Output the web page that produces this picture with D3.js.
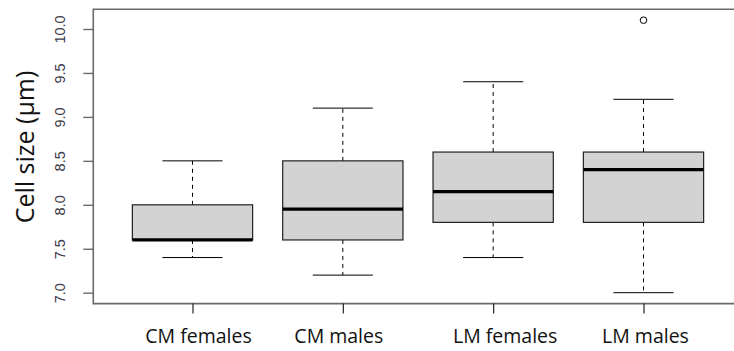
<!DOCTYPE html>
<html>
<head>
<meta charset="utf-8">
<script src="https://cdn.jsdelivr.net/npm/d3@7"></script>
<style>
  body { margin: 0; background: #fff; overflow: hidden; }
  svg { display: block; }
</style>
</head>
<body>
<div id="chart"></div>
<script>
// data
var groups = ['CM females', 'CM males', 'LM females', 'LM males'];
var whiskerLow = [7.4, 7.2, 7.4, 7.0];
var q1 = [7.6, 7.6, 7.8, 7.8];
var medians = [7.6, 7.95, 8.15, 8.4];
var q3 = [8.0, 8.5, 8.6, 8.6];
var whiskerHigh = [8.5, 9.1, 9.4, 9.2];
var outliers = [[], [], [], [10.1]];
var yTicks = [7.0, 7.5, 8.0, 8.5, 9.0, 9.5, 10.0];

var W = 734, H = 351;
var svg = d3.select('#chart').append('svg')
    .attr('width', W).attr('height', H);

// x positions: group index 1..4 on R style range 0.34 .. 4.66
var x = d3.scaleLinear().domain([1, 4]).range([192.5, 643.5]);
var y = d3.scaleLinear().domain([7, 10]).range([292.7, 29]);
var step = x(2) - x(1),
    boxW = step * 0.8,
    capW = boxW / 2;

var frameL = x(0.34), frameR = x(4.66),
    frameT = y(10.224), frameB = y(6.876);

var rows = groups.map(function(g, i) {
  return { name: g, i: i + 1, lo: whiskerLow[i], q1: q1[i], med: medians[i],
           q3: q3[i], hi: whiskerHigh[i], out: outliers[i] };
});

var g = svg.append('g').selectAll('g.box')
    .data(rows).enter().append('g').attr('class', 'box');

// whiskers
g.append('line')
    .attr('x1', function(d) { return x(d.i); })
    .attr('x2', function(d) { return x(d.i); })
    .attr('y1', function(d) { return y(d.q3); })
    .attr('y2', function(d) { return y(d.hi); })
    .attr('stroke', '#000').attr('stroke-dasharray', '4,4');
g.append('line')
    .attr('x1', function(d) { return x(d.i); })
    .attr('x2', function(d) { return x(d.i); })
    .attr('y1', function(d) { return y(d.q1); })
    .attr('y2', function(d) { return y(d.lo); })
    .attr('stroke', '#000').attr('stroke-dasharray', '4,4');
['hi', 'lo'].forEach(function(k) {
  g.append('line')
      .attr('x1', function(d) { return x(d.i) - capW / 2; })
      .attr('x2', function(d) { return x(d.i) + capW / 2; })
      .attr('y1', function(d) { return y(d[k]); })
      .attr('y2', function(d) { return y(d[k]); })
      .attr('stroke', '#000');
});

// boxes
g.append('rect')
    .attr('x', function(d) { return x(d.i) - boxW / 2; })
    .attr('y', function(d) { return y(d.q3); })
    .attr('width', boxW)
    .attr('height', function(d) { return y(d.q1) - y(d.q3); })
    .attr('fill', '#d3d3d3').attr('stroke', '#222').attr('stroke-width', 1.2);

// medians
g.append('line')
    .attr('x1', function(d) { return x(d.i) - boxW / 2; })
    .attr('x2', function(d) { return x(d.i) + boxW / 2; })
    .attr('y1', function(d) { return y(d.med); })
    .attr('y2', function(d) { return y(d.med); })
    .attr('stroke', '#000').attr('stroke-width', 3.2);

// outliers
g.selectAll('circle')
    .data(function(d) { return d.out.map(function(v) { return { i: d.i, v: v }; }); })
    .enter().append('circle')
    .attr('cx', function(d) { return x(d.i); })
    .attr('cy', function(d) { return y(d.v); })
    .attr('r', 3.3)
    .attr('fill', 'none').attr('stroke', '#000');

// frame: the right side is cut off in the picture, so leave it open
svg.append('path')
    .attr('d', 'M' + frameR + ',' + frameT + 'H' + frameL + 'V' + frameB + 'H' + frameR)
    .attr('fill', 'none').attr('stroke', '#6a6a6a').attr('stroke-width', 1.6);

// y axis
var yAxis = svg.append('g')
    .attr('transform', 'translate(' + frameL + ',0)')
    .call(d3.axisLeft(y).tickValues(yTicks).tickFormat(d3.format('.1f'))
      .tickSize(10).tickPadding(0));
yAxis.select('.domain').remove();
yAxis.selectAll('line').attr('stroke', '#6a6a6a').attr('stroke-width', 1.4);
yAxis.selectAll('text')
    .attr('transform', 'rotate(-90)')
    .attr('x', 0).attr('y', -33).attr('dy', '0.35em')
    .attr('text-anchor', 'middle')
    .attr('font-family', 'Liberation Sans, Arial, sans-serif')
    .attr('font-size', 14.5).attr('fill', '#3a3a48');

// x axis
var xAxis = svg.append('g')
    .attr('transform', 'translate(0,' + frameB + ')')
    .call(d3.axisBottom(x).tickValues([1, 2, 3, 4]).tickFormat('').tickSize(10));
xAxis.select('.domain').remove();
xAxis.selectAll('line').attr('stroke', '#222').attr('stroke-width', 1.2);

var labelShift = [6, -4, 12, 2];
svg.append('g').selectAll('text')
    .data(rows).enter().append('text')
    .attr('x', function(d, i) { return x(d.i) + labelShift[i]; })
    .attr('y', 343)
    .attr('text-anchor', 'middle')
    .attr('font-family', 'Open Sans, sans-serif')
    .attr('font-size', 19.5).attr('fill', '#111')
    .text(function(d) { return d.name; });

// y title
svg.append('text')
    .attr('transform', 'translate(34,' + 147 + ') rotate(-90)')
    .attr('text-anchor', 'middle')
    .attr('font-family', 'Open Sans, sans-serif')
    .attr('font-size', 25).attr('fill', '#111')
    .text('Cell size (\u00b5m)');
</script>
</body>
</html>
